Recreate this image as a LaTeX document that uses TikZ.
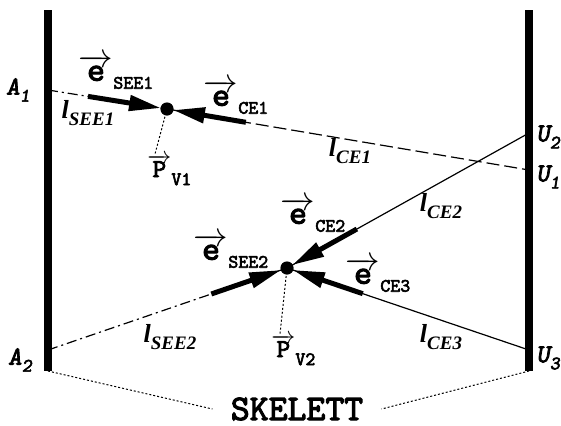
\documentclass[tikz,border=0pt]{standalone}
\usepackage{fontspec}
\setmainfont{Liberation Serif}
\setmonofont{lmmono10-regular.otf}[
  BoldFont            = lmmono10-regular.otf,
  BoldFeatures        = {FakeBold=3},
  SlantedFont         = lmmonoslant10-regular.otf,
  BoldSlantedFont     = lmmonoslant10-regular.otf,
  BoldSlantedFeatures = {FakeBold=3}]
\usetikzlibrary{calc,arrows.meta}

\newcommand\subsz{\fontsize{9.5}{9.5}\selectfont}
\newcommand\vecname[2]{$\overrightarrow{\mbox{#1}}$\lower4pt\hbox{\subsz#2}}
\newcommand\idxname[2]{#1\lower3.5pt\hbox{\subsz#2}}

\tikzset{
  bar/.style      = {line width=4pt},
  thinline/.style = {line width=0.6pt},
  dashdot/.style  = {thinline, dash pattern=on 5pt off 2pt on 1pt off 2pt},
  longdash/.style = {thinline, dash pattern=on 6.5pt off 2.5pt},
  fine/.style     = {line width=0.5pt, dash pattern=on 1pt off 1pt},
  force/.style    = {line width=2.5pt, -{Triangle[length=16pt,width=7.5pt]}, shorten >=3pt},
  veclabel/.style = {inner sep=0pt, font=\fontsize{17}{17}\selectfont\ttfamily\bfseries},
  poslabel/.style = {inner sep=0pt, font=\fontsize{13}{13}\selectfont\ttfamily\bfseries},
  endlabel/.style = {inner sep=0pt, font=\fontsize{13}{13}\selectfont\ttfamily\bfseries\slshape},
  lenlabel/.style = {inner sep=0pt, font=\fontsize{13}{13}\selectfont\rmfamily\bfseries\itshape},
}

\begin{document}
\begin{tikzpicture}[x=0.5pt, y=-0.5pt]
    \useasboundingbox (0,0) rectangle (561,425);

    %% end points on the bars, the two vertices
    \coordinate (A1) at (48,90);
    \coordinate (A2) at (48,350);
    \coordinate (U1) at (529,170);
    \coordinate (U2) at (529,133);
    \coordinate (U3) at (529,350);
    \coordinate (V1) at (167,109);
    \coordinate (V2) at (287,268);

    %% skeleton edges
    \draw[dashdot]  (A1) -- (V1);
    \draw[longdash] (V1) -- (U1);
    \draw[dashdot]  (A2) -- (V2);
    \draw[thinline] (V2) -- (U2);
    \draw[thinline] (V2) -- (U3);

    %% bars
    \draw[bar] (48,10) coordinate (LT) -- (48,371) coordinate (LB);
    \draw[bar] (529,10) coordinate (RT) -- (529,371) coordinate (RB);

    %% unit vectors into the vertices
    \draw[force] ($(V1)!40pt!(A1)$) -- (V1);
    \draw[force] ($(V1)!40pt!(U1)$) -- (V1);
    \draw[force] ($(V2)!40pt!(A2)$) -- (V2);
    \draw[force] ($(V2)!40pt!(U2)$) -- (V2);
    \draw[force] ($(V2)!40pt!(U3)$) -- (V2);

    \foreach \v in {V1,V2} {
      \fill (\v) circle (3.3pt); }

    %% position vectors
    \coordinate (P1) at (155,154);
    \coordinate (P2) at (280,334);
    \draw[fine] (V1) -- (P1);
    \draw[fine] (V2) -- (P2);
    \node[poslabel, anchor=north west] (pv1) at ([xshift=-4pt]P1) {\vecname{P}{V1}};
    \node[poslabel, anchor=north west] (pv2) at ([xshift=-4.5pt]P2) {\vecname{P}{V2}};

    %% labels
    \node[veclabel] (esee1) at (116,72)  {\vecname{e}{SEE1}};
    \node[veclabel] (ece1)  at (236,97)  {\vecname{e}{CE1}};
    \node[veclabel] (esee2) at (231,251) {\vecname{e}{SEE2}};
    \node[veclabel] (ece2)  at (313,215) {\vecname{e}{CE2}};
    \node[veclabel] (ece3)  at (378,275) {\vecname{e}{CE3}};

    \node[lenlabel] (lsee1) at (88,113)  {\idxname{l}{SEE1}};
    \node[lenlabel] (lce1)  at (350,151) {\idxname{l}{CE1}};
    \node[lenlabel] (lsee2) at (170,337) {\idxname{l}{SEE2}};
    \node[lenlabel] (lce2)  at (441,206) {\idxname{l}{CE2}};
    \node[lenlabel] (lce3)  at (441,337) {\idxname{l}{CE3}};

    \node[endlabel] (a1) at (18,90)   {\idxname{A}{1}};
    \node[endlabel] (a2) at (20,360)  {\idxname{A}{2}};
    \node[endlabel] (u2) at (548,137) {\idxname{U}{2}};
    \node[endlabel] (u1) at (548,177) {\idxname{U}{1}};
    \node[endlabel] (u3) at (548,358) {\idxname{U}{3}};

    %% skeleton caption
    \node[inner xsep=9pt, inner ysep=0pt, font=\fontsize{18}{18}\selectfont\ttfamily\bfseries]
        (skel) at (297,409) {SKELETT};
    \draw[fine] (LB) -- (skel.west);
    \draw[fine] (RB) -- (skel.east);

\end{tikzpicture}
\end{document}
